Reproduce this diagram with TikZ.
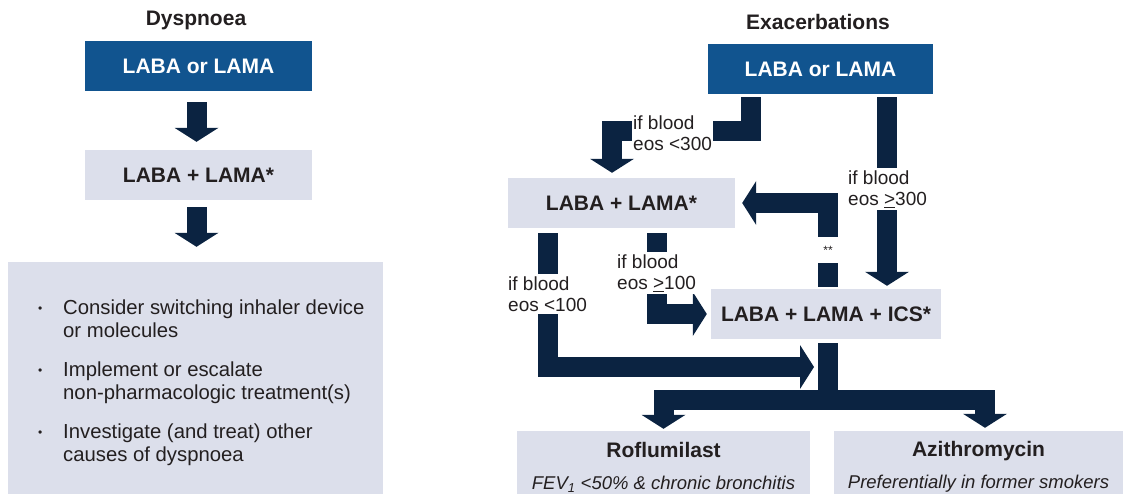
\documentclass[tikz,border=0pt]{standalone}
\usepackage{fontspec}
\setmainfont{Liberation Sans}
\usetikzlibrary{arrows.meta}
\definecolor{navy}{HTML}{0B2341}
\definecolor{midblue}{HTML}{11548F}
\definecolor{paleblue}{HTML}{DCDFEB}
\definecolor{ink}{HTML}{231F20}
\begin{document}
\begin{tikzpicture}[x=1pt,y=-1pt]
      \tikzstyle{title}=[text=ink,font=\fontsize{21}{24}\selectfont\bfseries]
      \tikzstyle{darkbox}=[fill=midblue,text=white,minimum width=227pt,minimum height=50pt,inner sep=0pt,font=\fontsize{21}{24}\selectfont\bfseries]
      \tikzstyle{lightbox}=[fill=paleblue,text=ink,minimum width=227pt,minimum height=50pt,inner sep=0pt,font=\fontsize{21}{24}\selectfont\bfseries]
      \tikzstyle{endbox}=[lightbox,minimum height=72pt,align=center,font=\fontsize{21}{32}\selectfont\bfseries]
      \tikzstyle{cond}=[fill=white,text=ink,anchor=west,align=left,inner xsep=1pt,inner ysep=3pt,font=\fontsize{19}{21}\selectfont]
      \tikzstyle{flow}=[draw=navy,line width=20pt,-{Triangle[width=44pt,length=14pt,line width=0pt]}]
      \useasboundingbox (0,0) rectangle (1123,494);
      \node[title] (T1) at (196,20) {Dyspnoea};
      \node[darkbox] (L1) at (198.5,66) {LABA or LAMA};
      \node[lightbox] (L2) at (198.5,175) {LABA + LAMA*};
      \node[lightbox,minimum width=375pt,minimum height=232pt] (L3) at (195.5,378) {};
      \node[anchor=north west,text=ink,inner sep=0pt,font=\fontsize{20.3}{23}\selectfont] (B) at (38,298) {%
        \begin{tabular}{@{}p{25pt}@{}l@{}}
        \raisebox{2pt}{\fontsize{12}{12}\selectfont•} & Consider switching inhaler device\\
        & or molecules\\[16pt]
        \raisebox{2pt}{\fontsize{12}{12}\selectfont•} & Implement or escalate\\
        & non-pharmacologic treatment(s)\\[16pt]
        \raisebox{2pt}{\fontsize{12}{12}\selectfont•} & Investigate (and treat) other\\
        & causes of dyspnoea
        \end{tabular}};
      \path[flow] ([xshift=-2pt,yshift=-11pt]L1.south) -- ([xshift=-2pt,yshift=8pt]L2.north);
      \path[flow] ([xshift=-2pt,yshift=-7pt]L2.south) -- ([xshift=-2pt,yshift=15pt]L2.south |- L3.north);
      \node[title] (T2) at (818,22) {Exacerbations};
      \node[darkbox,minimum width=225pt] (R1) at (820.5,69) {LABA or LAMA};
      \node[lightbox] (R2) at (621.5,203) {LABA + LAMA*};
      \node[lightbox,minimum width=230pt] (R3) at (826,314) {LABA + LAMA + ICS*};
      \node[endbox,minimum width=293pt] (R4) at (663.5,467) {Roflumilast\\{\fontsize{18.5}{22}\selectfont\mdseries\itshape FEV\textsubscript{1} <50\% \& chronic bronchitis}};
      \node[endbox,minimum width=290pt] (R5) at (978.5,467) {Azithromycin\\{\fontsize{18.5}{22}\selectfont\mdseries\itshape Preferentially in former smokers}};
      \coordinate (M) at (814,367);
      \path[flow] ([xshift=-69.5pt,yshift=-3pt]R1.south) -- ++(0,34) -| ([xshift=-9.5pt,yshift=5pt]R2.north);
      \path[flow] ([xshift=66.5pt,yshift=-3pt]R1.south) -- ([xshift=61pt,yshift=3pt]R3.north);
      \path[flow] ([xshift=2pt,yshift=2pt]R3.north) |- ([xshift=7pt]R2.east);
      \path[flow] ([xshift=35.5pt,yshift=-5pt]R2.south) |- ([xshift=-4pt]R3.west);
      \path[flow] ([xshift=-73.5pt,yshift=-5pt]R2.south) |- (M);
      \path[flow] ([xshift=2pt,yshift=-4pt]R3.south) -- ++(0,57) -| ([yshift=2pt]R4.north);
      \path[flow] ([xshift=2pt,yshift=-4pt]R3.south) -- ++(0,57) -| ([xshift=6.5pt,yshift=3pt]R5.north);
      \node[cond] (C1) at (632,133) {if blood\\eos <300};
      \node[cond] (C2) at (847,189) {if blood\\eos \underline{>}300};
      \node[cond] (C3) at (616,273) {if blood\\eos \underline{>}100};
      \node[cond] (C4) at (507,294) {if blood\\eos <100};
      \node[fill=white,text=ink,minimum width=22pt,minimum height=26pt,inner sep=0pt,font=\fontsize{12}{12}\selectfont] (C5) at (828,250) {**};
\end{tikzpicture}
\end{document}
